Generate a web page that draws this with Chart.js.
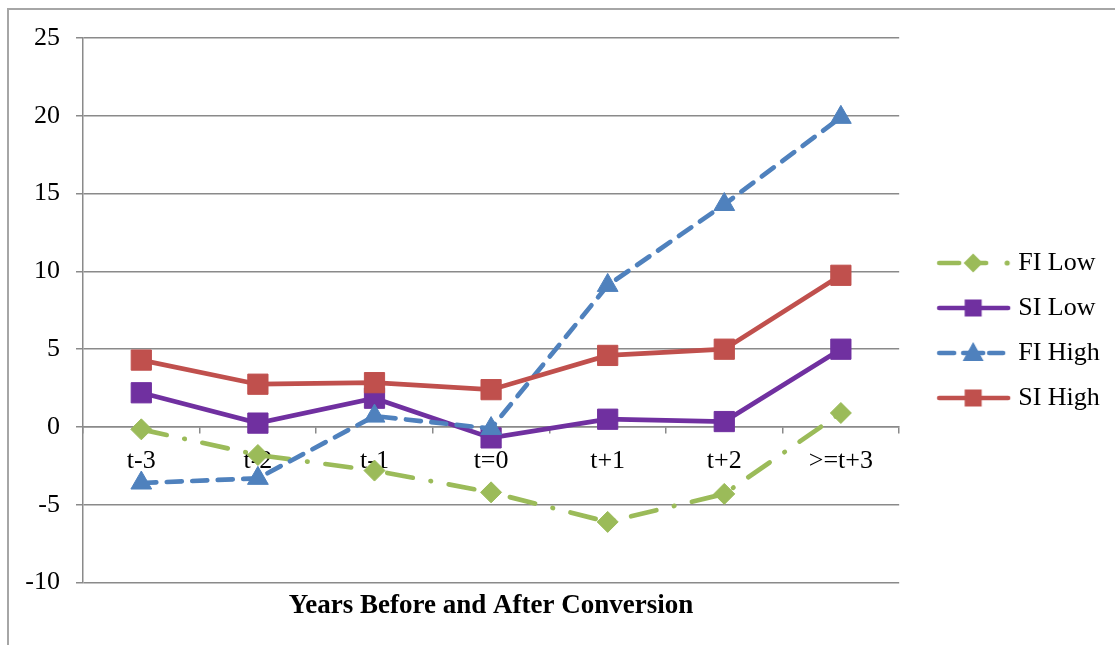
<!DOCTYPE html>
<html><head><meta charset="utf-8">
<script src="https://cdn.jsdelivr.net/npm/chart.js@4/dist/chart.umd.min.js"></script>
<style>
html,body{margin:0;padding:0;background:#fff;overflow:hidden;}
#wrap{position:relative;width:1115px;height:645px;background:#fff;}
#frame{position:absolute;left:7px;top:8px;width:1300px;height:800px;border-left:2px solid #a6a6a6;border-top:2px solid #a6a6a6;}
canvas{position:absolute;left:0;top:0;}
</style></head><body>
<div id="wrap"><div id="frame"></div><canvas id="c" width="1115" height="645"></canvas></div>
<script>
// ---- data ----
const categories = ['t-3', 't-2', 't-1', 't=0', 't+1', 't+2', '>=t+3'];
const fiLow  = [-0.15, -1.8, -2.8, -4.2, -6.1, -4.3, 0.9];
const siLow  = [2.2, 0.25, 1.85, -0.7, 0.5, 0.35, 5.0];
const fiHigh = [-3.6, -3.3, 0.7, -0.1, 9.1, 14.3, 19.9];
const siHigh = [4.3, 2.75, 2.85, 2.4, 4.6, 5.0, 9.75];
const seriesNames = ['FI Low', 'SI Low', 'FI High', 'SI High'];
const yTicks = [-10, -5, 0, 5, 10, 15, 20, 25];
const xTitle = 'Years Before and After Conversion';

// ---- styles ----
const F = "'Liberation Serif','Times New Roman',serif";
const GRID = '#8a8a8a';
const GREEN = '#9BBB59', PURPLE = '#7030A0', BLUE = '#4F81BD', RED = '#C0504D';

function makeMarker(kind, color) {
  const c = document.createElement('canvas');
  c.width = 76; c.height = 26;
  const g = c.getContext('2d');
  const cy = 13, cx = 37;
  g.strokeStyle = color; g.fillStyle = color; g.lineWidth = 4.5; g.lineCap = 'round';
  if (kind === 'fiLow') {
    g.beginPath(); g.moveTo(3, cy); g.lineTo(23, cy); g.stroke();
    g.beginPath(); g.moveTo(cx - 9.5, cy); g.lineTo(cx, cy - 9.5); g.lineTo(cx + 9.5, cy); g.lineTo(cx, cy + 9.5); g.closePath(); g.fill();
    g.beginPath(); g.moveTo(cx, cy); g.lineTo(cx + 13, cy); g.stroke();
    g.beginPath(); g.arc(71, cy, 2.6, 0, Math.PI * 2); g.fill();
  } else if (kind === 'fiHigh') {
    g.beginPath(); g.moveTo(3, cy); g.lineTo(18, cy); g.stroke();
    g.beginPath(); g.moveTo(53, cy); g.lineTo(67, cy); g.stroke();
    g.beginPath(); g.moveTo(cx - 10, cy); g.lineTo(cx + 10, cy); g.stroke();
    g.beginPath(); g.moveTo(cx, cy - 11); g.lineTo(cx + 10.5, cy + 8); g.lineTo(cx - 10.5, cy + 8); g.closePath(); g.fill();
  } else {
    g.beginPath(); g.moveTo(3, cy); g.lineTo(72, cy); g.stroke();
    g.fillRect(cx - 8.5, cy - 8.5, 17, 17);
  }
  return c;
}
const markers = [makeMarker('fiLow', GREEN), makeMarker('si', PURPLE), makeMarker('fiHigh', BLUE), makeMarker('si', RED)];

const datasets = [
  { label: seriesNames[0], data: fiLow, borderColor: GREEN, backgroundColor: GREEN, borderWidth: 4.7,
    borderDash: [26, 18, 0.5, 18], borderCapStyle: 'round', pointStyle: 'rectRot', pointRadius: 10.5,
    pointBorderWidth: 1, pointBorderColor: GREEN, pointBackgroundColor: GREEN, order: 4 },
  { label: seriesNames[1], data: siLow, borderColor: PURPLE, backgroundColor: PURPLE, borderWidth: 4.7,
    pointStyle: 'rect', pointRadius: 14.3, pointBorderWidth: 1, pointBorderColor: PURPLE, pointBackgroundColor: PURPLE, order: 3 },
  { label: seriesNames[2], data: fiHigh, borderColor: BLUE, backgroundColor: BLUE, borderWidth: 4.7,
    borderDash: [15, 10.5], borderCapStyle: 'round', pointStyle: 'triangle', pointRadius: 12,
    pointBorderWidth: 1, pointBorderColor: BLUE, pointBackgroundColor: BLUE, order: 2 },
  { label: seriesNames[3], data: siHigh, borderColor: RED, backgroundColor: RED, borderWidth: 4.7,
    pointStyle: 'rect', pointRadius: 14.3, pointBorderWidth: 1, pointBorderColor: RED, pointBackgroundColor: RED, order: 1 }
];
datasets.forEach(d => { d.tension = 0; d.fill = false; d.clip = false; d.xAxisID = 'x'; d.yAxisID = 'y'; });

new Chart(document.getElementById('c'), {
  type: 'line',
  data: { labels: categories, datasets: datasets },
  options: {
    responsive: false,
    animation: false,
    events: [],
    layout: { padding: { top: 38, bottom: 22, left: 0, right: 6 } },
    plugins: {
      tooltip: { enabled: false },
      title: { display: false },
      legend: {
        position: 'right', align: 'center',
        labels: {
          usePointStyle: true, pointStyleWidth: 62, padding: 19,
          font: { family: F, size: 26 }, color: '#000',
          generateLabels: chart => chart.data.datasets.map((ds, i) => ({
            text: ds.label, pointStyle: markers[i], datasetIndex: i, hidden: false,
            lineWidth: 0, strokeStyle: 'rgba(0,0,0,0)', fillStyle: 'rgba(0,0,0,0)', fontColor: '#000'
          })),
          sort: (a, b) => a.datasetIndex - b.datasetIndex
        }
      }
    },
    scales: {
      x: {
        type: 'category', position: 'bottom', offset: true,
        grid: { display: false, drawTicks: false, tickLength: 0 }, border: { display: false }, ticks: { display: false },
        title: { display: true, text: xTitle, color: '#000', font: { family: F, size: 27, weight: 'bold' }, padding: { top: 7, bottom: 1 } }
      },
      x2: {
        type: 'category', position: { y: 0 }, offset: true,
        grid: { display: true, drawOnChartArea: false, drawTicks: true, tickLength: 6, offset: true, color: GRID, lineWidth: 1.5 },
        border: { display: true, color: GRID, width: 1.5 },
        ticks: { font: { family: F, size: 26 }, color: '#000', padding: 13, maxRotation: 0, autoSkip: false }
      },
      y: {
        type: 'linear', position: 'left', min: yTicks[0], max: yTicks[yTicks.length - 1],
        afterBuildTicks: s => { s.ticks = yTicks.map(v => ({ value: v })); },
        grid: { color: GRID, lineWidth: 1.5, tickLength: 7 },
        border: { color: GRID, width: 1.5 },
        ticks: { font: { family: F, size: 26 }, color: '#000', padding: 16 },
        afterFit: s => { s.width = 83; }
      },
      spacer: {
        type: 'linear', position: 'right', display: true,
        grid: { display: false, drawTicks: false }, border: { display: false }, ticks: { display: false },
        afterFit: s => { s.width = 25; }
      }
    }
  }
});
</script>
</body></html>
